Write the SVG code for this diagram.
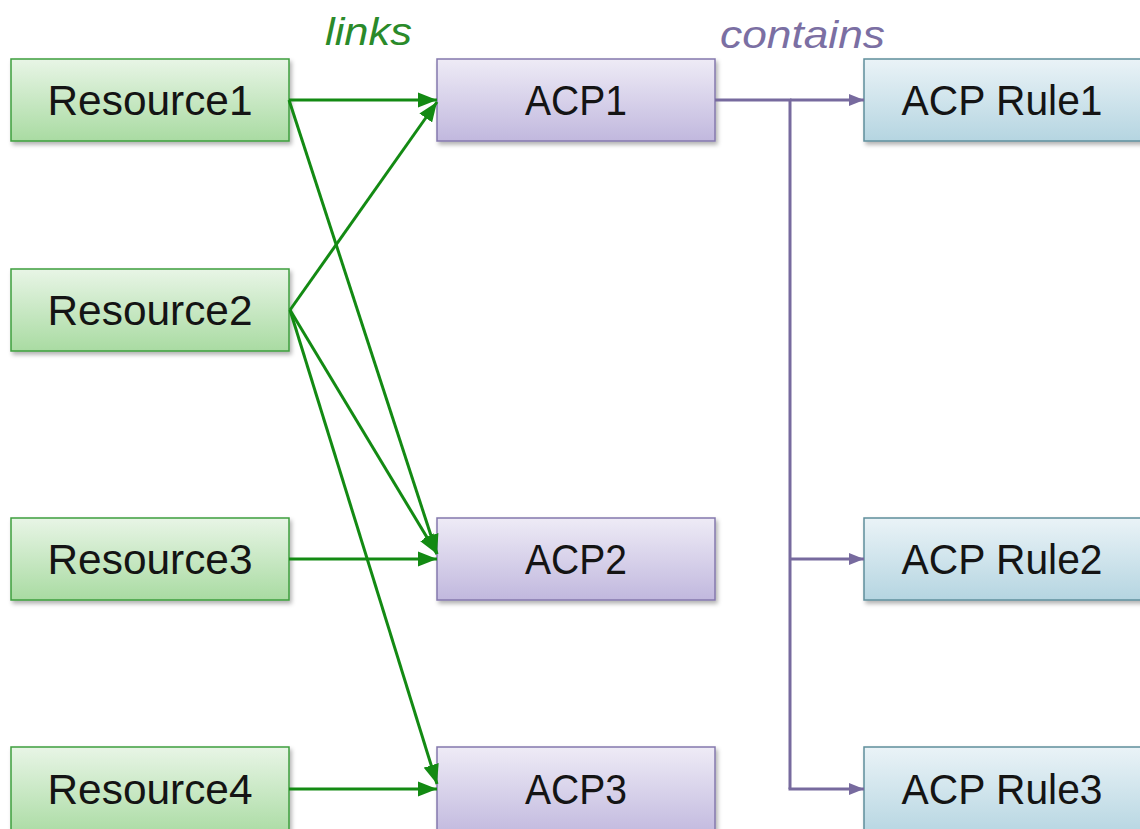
<svg xmlns="http://www.w3.org/2000/svg" width="1140" height="829" viewBox="0 0 1140 829">
<defs>
<linearGradient id="gG" x1="0" y1="0" x2="0" y2="1"><stop offset="0" stop-color="#e8f5e6"/><stop offset="1" stop-color="#a9dba2"/></linearGradient>
<linearGradient id="gP" x1="0" y1="0" x2="0" y2="1"><stop offset="0" stop-color="#eeebf6"/><stop offset="1" stop-color="#c1b8de"/></linearGradient>
<linearGradient id="gB" x1="0" y1="0" x2="0" y2="1"><stop offset="0" stop-color="#eaf3f7"/><stop offset="1" stop-color="#b5d5e1"/></linearGradient>
<filter id="sh" x="-10%" y="-10%" width="125%" height="135%"><feDropShadow dx="2" dy="3" stdDeviation="2" flood-color="#000" flood-opacity="0.3"/></filter>
<marker id="ag" viewBox="0 0 10 8" refX="10" refY="4" markerWidth="6.5" markerHeight="5.2" markerUnits="strokeWidth" orient="auto"><path d="M0,0 L10,4 L0,8 z" fill="#138a13"/></marker>
<marker id="ap" viewBox="0 0 10 8" refX="10" refY="4" markerWidth="5" markerHeight="4" markerUnits="strokeWidth" orient="auto"><path d="M0,0 L10,4 L0,8 z" fill="#776a9e"/></marker>
</defs>
<style>
.g rect{fill:url(#gG);stroke:#3e9e3e;stroke-width:1.5}
.p rect{fill:url(#gP);stroke:#8478ad;stroke-width:1.5}
.b rect{fill:url(#gB);stroke:#5f8f9c;stroke-width:1.5}
.n rect{filter:url(#sh)}
.n text{font-family:"Liberation Sans",Arial,sans-serif;font-size:42px;fill:#141414;text-anchor:middle}
.lg{stroke:#138a13;stroke-width:3;fill:none;marker-end:url(#ag)}
.lp{stroke:#776a9e;stroke-width:3;fill:none}
.lab{font-family:"Liberation Sans",Arial,sans-serif;font-style:italic;font-size:38px}
</style>
<rect width="1140" height="829" fill="#fff"/>
<text class="lab" x="325" y="45" fill="#2a8a2a" textLength="87" lengthAdjust="spacingAndGlyphs">links</text>
<text class="lab" x="720" y="48" fill="#7b6fa3" textLength="165" lengthAdjust="spacingAndGlyphs">contains</text>
<g id="resource1" class="n g"><rect x="11" y="59" width="278" height="82"/><text x="150" y="115" textLength="205" lengthAdjust="spacingAndGlyphs">Resource1</text></g>
<g id="resource2" class="n g"><rect x="11" y="269" width="278" height="82"/><text x="150" y="325" textLength="205" lengthAdjust="spacingAndGlyphs">Resource2</text></g>
<g id="resource3" class="n g"><rect x="11" y="518" width="278" height="82"/><text x="150" y="574" textLength="205" lengthAdjust="spacingAndGlyphs">Resource3</text></g>
<g id="resource4" class="n g"><rect x="11" y="747" width="278" height="90"/><text x="150" y="804" textLength="205" lengthAdjust="spacingAndGlyphs">Resource4</text></g>
<g id="acp1" class="n p"><rect x="437" y="59" width="278" height="82"/><text x="576" y="115" textLength="102" lengthAdjust="spacingAndGlyphs">ACP1</text></g>
<g id="acp2" class="n p"><rect x="437" y="518" width="278" height="82"/><text x="576" y="574" textLength="102" lengthAdjust="spacingAndGlyphs">ACP2</text></g>
<g id="acp3" class="n p"><rect x="437" y="747" width="278" height="90"/><text x="576" y="804" textLength="102" lengthAdjust="spacingAndGlyphs">ACP3</text></g>
<g id="rule1" class="n b"><rect x="864" y="59" width="290" height="82"/><text x="1002" y="115" textLength="201" lengthAdjust="spacingAndGlyphs">ACP Rule1</text></g>
<g id="rule2" class="n b"><rect x="864" y="518" width="290" height="82"/><text x="1002" y="574" textLength="201" lengthAdjust="spacingAndGlyphs">ACP Rule2</text></g>
<g id="rule3" class="n b"><rect x="864" y="747" width="290" height="90"/><text x="1002" y="804" textLength="201" lengthAdjust="spacingAndGlyphs">ACP Rule3</text></g>
<g id="connectors">
<line class="lg" x1="289" y1="100" x2="437" y2="100"/>
<line class="lg" x1="289" y1="100" x2="437" y2="554"/>
<line class="lg" x1="290" y1="310" x2="437" y2="102"/>
<line class="lg" x1="290" y1="310" x2="437" y2="554"/>
<line class="lg" x1="290" y1="310" x2="437" y2="784"/>
<line class="lg" x1="289" y1="559" x2="437" y2="559"/>
<line class="lg" x1="289" y1="789" x2="437" y2="789"/>
<path class="lp" d="M715,100 H790 V789"/>
<line class="lp" x1="790" y1="100" x2="864" y2="100" style="marker-end:url(#ap)"/>
<line class="lp" x1="790" y1="559" x2="864" y2="559" style="marker-end:url(#ap)"/>
<line class="lp" x1="788.5" y1="789" x2="864" y2="789" style="marker-end:url(#ap)"/>
</g>
</svg>
